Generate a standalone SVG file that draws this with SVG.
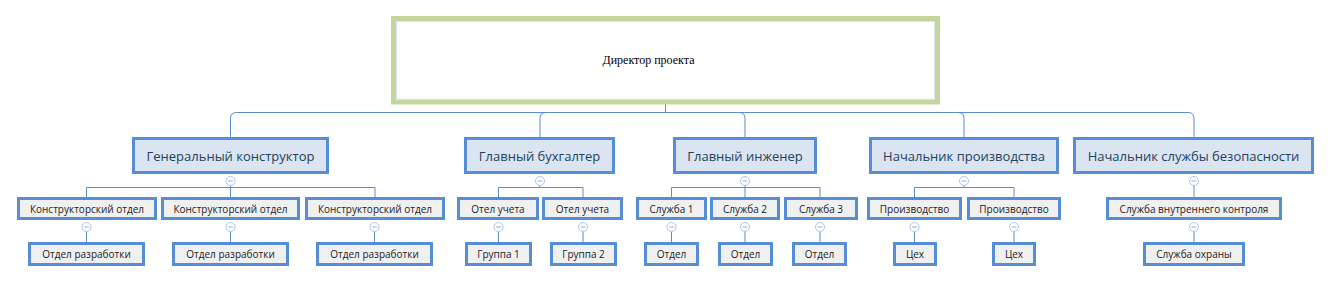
<svg xmlns="http://www.w3.org/2000/svg" width="1330" height="283" viewBox="0 0 1330 283">
<style>
.l1 rect{fill:#dbe5f1;stroke:#558ed5;stroke-width:3}
.l2 rect{fill:#f0f0f0;stroke:#558ed5;stroke-width:3}
.l1 text{font-family:"Open Sans","Noto Sans",sans-serif;font-size:13px;fill:#243f60;text-anchor:middle}
.l2 text{font-family:"Open Sans","Noto Sans",sans-serif;font-size:10px;fill:#222;text-anchor:middle}
.ln{fill:none;stroke:#558ed5;stroke-width:1}
</style>
<defs>
<g id="minus"><circle cx="0" cy="0" r="4.5" fill="#fff" stroke="#a9c4eb" stroke-width="1"/><path d="M-2.5 0H2.5" stroke="#8eb4e3" stroke-width="1"/></g>
</defs>
<g id="connectors" class="ln">
<path d="M665.5 104V112.5H236.5Q230.5 112.5 230.5 118.5V137"/>
<path d="M665.5 112.5H546Q540 112.5 540 118.5V137"/>
<path d="M665.5 112.5H739Q745 112.5 745 118.5V137"/>
<path d="M665.5 112.5H958Q964 112.5 964 118.5V137"/>
<path d="M665.5 112.5H1188Q1194 112.5 1194 118.5V137"/>
<path d="M230.5 185.5V187.5M86.5 197V187.5H375V197M230.5 187.5V197"/>
<path d="M539.5 185.5V187.5M498.5 197V187.5H583V197"/>
<path d="M745 185.5V187.5M671.5 197V187.5H820V197M745 187.5V197"/>
<path d="M964 185.5V187.5M914.5 197V187.5H1014V197"/>
<path d="M1194 185.5V197"/>
<path d="M86.5 231.5V242M230.5 231.5V242M374.5 231.5V242M498.5 231.5V242M583 231.5V242M671.5 231.5V242M745 231.5V242M820 231.5V242M914.5 231.5V242M1014 231.5V242M1194 231.5V242"/>
</g>
<g id="toggles">
<use href="#minus" x="230.5" y="181"/>
<use href="#minus" x="540" y="181"/>
<use href="#minus" x="745" y="181"/>
<use href="#minus" x="964" y="181"/>
<use href="#minus" x="1194" y="181"/>
<use href="#minus" x="86.5" y="227"/>
<use href="#minus" x="230.5" y="227"/>
<use href="#minus" x="374.5" y="227"/>
<use href="#minus" x="498.5" y="227"/>
<use href="#minus" x="583" y="227"/>
<use href="#minus" x="671.5" y="227"/>
<use href="#minus" x="745" y="227"/>
<use href="#minus" x="820" y="227"/>
<use href="#minus" x="914.5" y="227"/>
<use href="#minus" x="1014" y="227"/>
<use href="#minus" x="1194" y="227"/>
</g>
<g id="root">
<rect x="393.5" y="18.5" width="544" height="83.5" fill="#fff" stroke="#c3d69b" stroke-width="5"/>
<rect x="396.5" y="21.5" width="538" height="77.5" fill="none" stroke="#dce6f2" stroke-width="1"/>
<text x="648.5" y="64" font-family="Liberation Serif,serif" font-size="12" fill="#000" text-anchor="middle">Директор проекта</text>
</g>
<g id="n1" class="l1"><rect x="133.5" y="138.5" width="194" height="34"/><text x="230.5" y="161">Генеральный конструктор</text></g>
<g id="n2" class="l1"><rect x="465.5" y="138.5" width="148" height="34"/><text x="539.5" y="161">Главный бухгалтер</text></g>
<g id="n3" class="l1"><rect x="674.5" y="138.5" width="141" height="34"/><text x="745" y="161">Главный инженер</text></g>
<g id="n4" class="l1"><rect x="870.5" y="138.5" width="187" height="34"/><text x="964" y="161">Начальник производства</text></g>
<g id="n5" class="l1"><rect x="1074.5" y="138.5" width="238" height="34"/><text x="1193.5" y="161">Начальник службы безопасности</text></g>
<g id="k1" class="l2"><rect x="18.5" y="198.5" width="137" height="20"/><text x="87" y="212.5">Конструкторский отдел</text></g>
<g id="k2" class="l2"><rect x="162.5" y="198.5" width="136" height="20"/><text x="230.5" y="212.5">Конструкторский отдел</text></g>
<g id="k3" class="l2"><rect x="306.5" y="198.5" width="137" height="20"/><text x="375" y="212.5">Конструкторский отдел</text></g>
<g id="u1" class="l2"><rect x="458.5" y="198.5" width="79" height="20"/><text x="498" y="212.5">Отел учета</text></g>
<g id="u2" class="l2"><rect x="543.5" y="198.5" width="78" height="20"/><text x="582.5" y="212.5">Отел учета</text></g>
<g id="s1" class="l2"><rect x="637.5" y="198.5" width="68" height="20"/><text x="671.5" y="212.5">Служба 1</text></g>
<g id="s2" class="l2"><rect x="711.5" y="198.5" width="67" height="20"/><text x="745" y="212.5">Служба 2</text></g>
<g id="s3" class="l2"><rect x="785.5" y="198.5" width="71" height="20"/><text x="821" y="212.5">Служба 3</text></g>
<g id="p1" class="l2"><rect x="868.5" y="198.5" width="92" height="20"/><text x="914.5" y="212.5">Производство</text></g>
<g id="p2" class="l2"><rect x="968.5" y="198.5" width="91" height="20"/><text x="1014" y="212.5">Производство</text></g>
<g id="v1" class="l2"><rect x="1107.5" y="198.5" width="173" height="20"/><text x="1194" y="212.5">Служба внутреннего контроля</text></g>
<g id="r1" class="l2"><rect x="29.5" y="243.5" width="114" height="21"/><text x="86.5" y="258">Отдел разработки</text></g>
<g id="r2" class="l2"><rect x="173.5" y="243.5" width="114" height="21"/><text x="230.5" y="258">Отдел разработки</text></g>
<g id="r3" class="l2"><rect x="317.5" y="243.5" width="114" height="21"/><text x="374.5" y="258">Отдел разработки</text></g>
<g id="g1" class="l2"><rect x="466.5" y="243.5" width="64" height="21"/><text x="498.5" y="258">Группа 1</text></g>
<g id="g2" class="l2"><rect x="551.5" y="243.5" width="64" height="21"/><text x="583.5" y="258">Группа 2</text></g>
<g id="o1" class="l2"><rect x="645.5" y="243.5" width="52" height="21"/><text x="671.5" y="258">Отдел</text></g>
<g id="o2" class="l2"><rect x="719.5" y="243.5" width="52" height="21"/><text x="745.5" y="258">Отдел</text></g>
<g id="o3" class="l2"><rect x="793.5" y="243.5" width="52" height="21"/><text x="819.5" y="258">Отдел</text></g>
<g id="c1" class="l2"><rect x="894.5" y="243.5" width="41" height="21"/><text x="915" y="258">Цех</text></g>
<g id="c2" class="l2"><rect x="993.5" y="243.5" width="41" height="21"/><text x="1014" y="258">Цех</text></g>
<g id="h1" class="l2"><rect x="1144.5" y="243.5" width="99" height="21"/><text x="1194" y="258">Служба охраны</text></g>
</svg>
